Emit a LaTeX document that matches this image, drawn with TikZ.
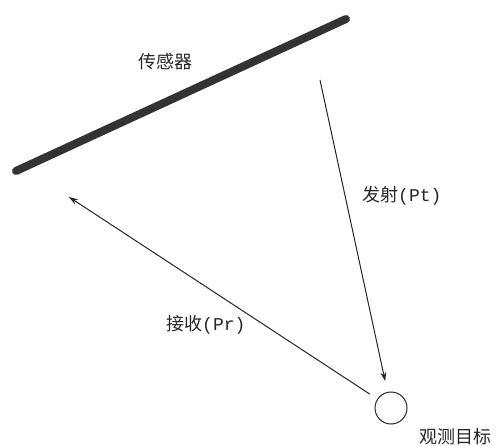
\documentclass[tikz,border=0pt]{standalone}
\usepackage{fontspec}
\newfontfamily\cjk{Noto Sans CJK SC}
\newfontfamily\halfw{Liberation Mono}
\usetikzlibrary{arrows.meta}
\begin{document}
\begin{tikzpicture}[x=1pt,y=-1pt,
  lbl/.style={font=\cjk\fontsize{18}{20}\selectfont, inner sep=0pt, text=black!85},
  ray/.style={draw=black!85, line width=1pt, -{Stealth[length=9pt,width=6pt]}},
  sensorbar/.style={draw=black!80, line width=8pt, line cap=round}]
\useasboundingbox (0,0) rectangle (500,446);
\coordinate (s1) at (16,171);
\coordinate (s2) at (346,19);
\coordinate (tx) at (320,80);
\coordinate (rx) at (69,197);
\node[draw=black!85, line width=1pt, circle, minimum size=32pt, inner sep=0pt] (target) at (391,408) {};
\draw[sensorbar] (s1) -- (s2);
\draw[ray, shorten >=11pt] (tx) -- (target);
\draw[ray, shorten <=9pt] (target) -- (rx);
\node[lbl] (lsensor) at (165,62) {传感器};
\node[lbl, anchor=west] (ltx) at (362,196) {发射{\halfw(Pt)}};
\node[lbl, anchor=west] (lrx) at (166,325) {接收{\halfw(Pr)}};
\node[lbl, anchor=west] (ltarget) at (419,437) {观测目标};
\end{tikzpicture}
\end{document}
